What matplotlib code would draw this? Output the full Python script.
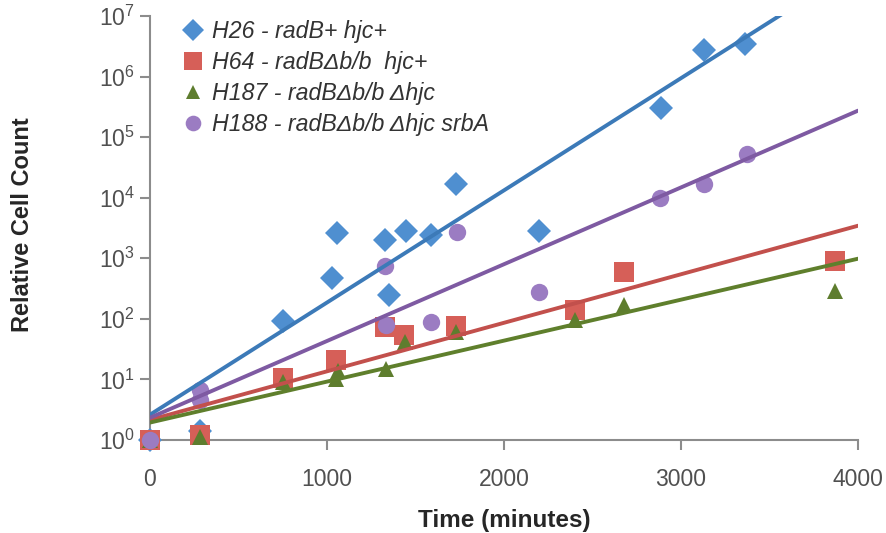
import numpy as np
import matplotlib
matplotlib.use("Agg")
import matplotlib.pyplot as plt
from matplotlib.ticker import NullLocator, FixedLocator

plt.rcParams['font.family'] = ['Liberation Sans', 'DejaVu Sans']
plt.rcParams['mathtext.default'] = 'regular'

# ---- data ----
h26_t = [0, 280, 751, 1028, 1056, 1328, 1350, 1446, 1588, 1729, 2198, 2887, 3130, 3361]
h26_v = [1, 1.4, 91, 470, 2600, 2000, 250, 2800, 2400, 17000, 2800, 300000, 2.7e6, 3.4e6]

h64_t = [0, 280, 751, 1050, 1330, 1435, 1729, 2400, 2680, 3870]
h64_v = [1, 1.2, 10.5, 21, 73, 54, 75, 140, 590, 900]

h187_t = [0, 280, 751, 1050, 1060, 1335, 1440, 1729, 2400, 2680, 3870]
h187_v = [1, 1.1, 9, 10, 14, 15, 42, 60, 95, 170, 290]

h188_t = [0, 280, 285, 1330, 1335, 1590, 1735, 2198, 2880, 3130, 3375]
h188_v = [1, 6.7, 4.5, 750, 80, 90, 2700, 280, 9800, 17000, 52000]

labels = ["H26 - radB+ hjc+",
          "H64 - radBΔb/b  hjc+",
          "H187 - radBΔb/b Δhjc",
          "H188 - radBΔb/b Δhjc srbA"]

marker_colors = ["#4f8fd0", "#d65f58", "#5e7d2e", "#9b7cc2"]
line_colors = ["#3c7ab8", "#c2504c", "#5f7f2c", "#7e5aa2"]
markers = ["D", "s", "^", "o"]
msizes = [12.5, 14, 11.5, 12.5]

xticks = [0, 1000, 2000, 3000, 4000]

fig = plt.figure(figsize=(8.87, 5.33), dpi=100)
ax = fig.add_axes([150/887, 1-440/533, 708/887, 424/533])

series = [(h26_t, h26_v), (h64_t, h64_v), (h187_t, h187_v), (h188_t, h188_v)]
handles = []
for (t, v), lab, mc, lc, mk, ms in zip(series, labels, marker_colors, line_colors, markers, msizes):
    t = np.array(t, float); v = np.array(v, float)
    h, = ax.plot(t, v, linestyle='none', marker=mk, markersize=ms, color=mc,
                 markeredgewidth=0, clip_on=False, zorder=3, label=lab)
    handles.append(h)
    b, a = np.polyfit(t, np.log10(v), 1)
    xs = np.linspace(0, 4000, 200)
    ax.plot(xs, 10**(a + b*xs), color=lc, lw=2.8, zorder=4, solid_capstyle='round')

ax.set_yscale('log')
ax.set_ylim(1, 1e7)
ax.set_xlim(0, 4000)
ax.set_xticks(xticks)
ax.yaxis.set_major_locator(FixedLocator([10.0**k for k in range(8)]))
ax.yaxis.set_minor_locator(NullLocator())

for s in ['top', 'right']:
    ax.spines[s].set_visible(False)
for s in ['left', 'bottom']:
    ax.spines[s].set_color('#8c8c8c')
    ax.spines[s].set_linewidth(1.5)
ax.tick_params(axis='both', colors='#8c8c8c', width=1.5, length=7,
               labelcolor='#505050', labelsize=16.5)
ax.tick_params(axis='x', pad=13)
ax.tick_params(axis='y', pad=4)

ax.set_xlabel("Time (minutes)", fontsize=17.5, fontweight='bold', color='#262626')
ax.xaxis.set_label_coords(0.5, -(520-440)/424, transform=ax.transAxes)
ax.xaxis.label.set_va('center')
ax.set_ylabel("Relative Cell Count", fontsize=17, fontweight='bold', color='#262626')
ax.yaxis.set_label_coords(-(150-23)/708, (440-225)/424, transform=ax.transAxes)
ax.yaxis.label.set_va('center')

leg = ax.legend(handles=handles, loc='upper left', bbox_to_anchor=(0.005, 1.04),
                frameon=False, prop={'style': 'italic', 'size': 16.7},
                handletextpad=0.0, labelspacing=0.35, handlelength=1.6,
                markerscale=0.9, labelcolor='#333333')

fig.savefig("out.png", dpi=100)
